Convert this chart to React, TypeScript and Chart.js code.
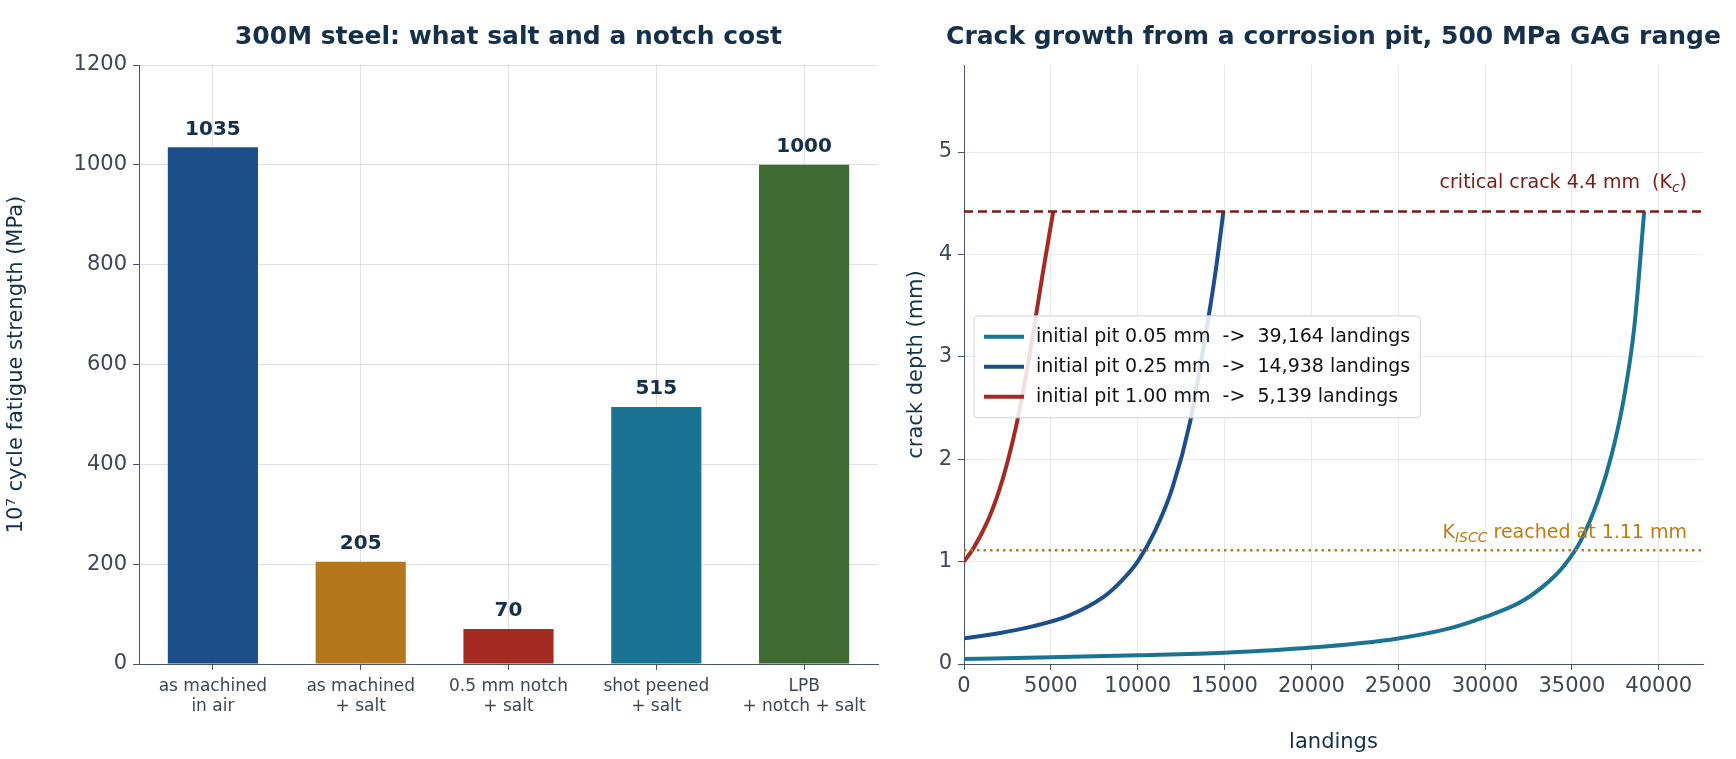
import React, { useEffect, useRef } from "react";
import { Chart, registerables } from "chart.js";
Chart.register(...registerables);

const barLabels = [["as machined", "in air"], ["as machined", "+ salt"], ["0.5 mm notch", "+ salt"], ["shot peened", "+ salt"], ["LPB", "+ notch + salt"]];
const barValues = [1035, 205, 70, 515, 1000];
const barColors = ["#1c4f8a", "#b5771b", "#a52a21", "#1b7394", "#3f6b33"];

const pit005 = [[0, 0.05], [5000, 0.065], [10000, 0.085], [15000, 0.11], [20000, 0.16], [25000, 0.25], [28000, 0.35], [30000, 0.46], [32000, 0.6], [33500, 0.78], [34500, 0.95], [35500, 1.2], [36500, 1.6], [37300, 2.05], [38000, 2.6], [38600, 3.3], [39164, 4.42]];
const pit025 = [[0, 0.25], [2000, 0.3], [4000, 0.37], [6000, 0.47], [8000, 0.65], [9000, 0.8], [10000, 1.0], [11000, 1.3], [12000, 1.72], [13000, 2.35], [13800, 3.1], [14500, 3.85], [14938, 4.42]];
const pit100 = [[0, 1.0], [500, 1.12], [1000, 1.27], [1500, 1.45], [2000, 1.68], [2500, 1.97], [3000, 2.32], [3500, 2.75], [4000, 3.25], [4500, 3.78], [5139, 4.42]];
const seriesLabels = ["initial pit 0.05 mm  ->  39,164 landings", "initial pit 0.25 mm  ->  14,938 landings", "initial pit 1.00 mm  ->  5,139 landings"];
const seriesColors = ["#1b7394", "#1c4f8a", "#a52a21"];
const xTickValues = [0, 5000, 10000, 15000, 20000, 25000, 30000, 35000, 40000];
const yTickValues = [0, 1, 2, 3, 4, 5];
const criticalCrack = 4.42;
const kisccDepth = 1.11;

const FONT = "'DejaVu Sans', sans-serif";
const NAVY = "#14304a";
const TICK = "#3d4756";
const GRID = "rgba(200,205,215,0.6)";

const titlePlugin = (text: string) => ({
  id: "ttl",
  afterDraw(c: any) {
    const ctx = c.ctx, a = c.chartArea;
    ctx.save();
    ctx.font = `bold 25px ${FONT}`;
    ctx.fillStyle = NAVY;
    ctx.textAlign = "center";
    ctx.textBaseline = "middle";
    ctx.fillText(text, (a.left + a.right) / 2, 37);
    ctx.restore();
  },
});

function BarChart() {
  const ref = useRef<HTMLCanvasElement>(null);
  useEffect(() => {
    const labelsPlugin = {
      id: "vals",
      afterDatasetsDraw(c: any) {
        const ctx = c.ctx;
        const meta = c.getDatasetMeta(0);
        ctx.save();
        ctx.font = `bold 20px ${FONT}`;
        ctx.fillStyle = NAVY;
        ctx.textAlign = "center";
        ctx.textBaseline = "bottom";
        meta.data.forEach((el: any, i: number) => ctx.fillText(String(barValues[i]), el.x, el.y - 8));
        ctx.restore();
      },
    };
    const ch = new Chart(ref.current!, {
      type: "bar",
      data: { labels: barLabels as any, datasets: [{ data: barValues, backgroundColor: barColors, barPercentage: 0.61, categoryPercentage: 1 }] },
      options: {
        animation: false, responsive: false,
        layout: { padding: { left: 0, right: 22, top: 65, bottom: 0 } },
        plugins: { legend: { display: false }, tooltip: { enabled: false } },
        scales: {
          x: {
            z: 1,
            grid: { color: GRID, offset: false, drawTicks: true, tickLength: 6, tickColor: "#4a5568" },
            border: { color: "#4a5568" },
            ticks: { color: TICK, font: { family: FONT, size: 17 }, padding: 6 },
            afterFit: (s: any) => { s.height = 95; },
          },
          y: {
            z: 1, min: 0, max: 1200,
            grid: { color: GRID, tickLength: 6, tickColor: "#4a5568" },
            border: { color: "#4a5568" },
            ticks: { stepSize: 200, color: TICK, font: { family: FONT, size: 21 }, padding: 6, callback: (v: any) => String(v) },
            title: { display: true, text: "10⁷ cycle fatigue strength (MPa)", color: NAVY, font: { family: FONT, size: 21 }, padding: { bottom: 8 } },
            afterFit: (s: any) => { s.width = 139; },
          },
        },
      },
      plugins: [labelsPlugin, titlePlugin("300M steel: what salt and a notch cost")],
    });
    return () => ch.destroy();
  }, []);
  return <canvas ref={ref} width={900} height={759} style={{ position: "absolute", left: 0, top: 0 }} />;
}

function LineChart() {
  const ref = useRef<HTMLCanvasElement>(null);
  useEffect(() => {
    const extras = {
      id: "extras",
      afterDatasetsDraw(c: any) {
        const ctx = c.ctx, a = c.chartArea, y = c.scales.y;
        ctx.save();
        ctx.lineWidth = 2.5;
        ctx.strokeStyle = "#7a1a14";
        ctx.setLineDash([9, 5]);
        let yy = y.getPixelForValue(criticalCrack);
        ctx.beginPath(); ctx.moveTo(a.left, yy); ctx.lineTo(a.right, yy); ctx.stroke();
        ctx.strokeStyle = "#c07a10";
        ctx.setLineDash([2.5, 4]);
        yy = y.getPixelForValue(kisccDepth);
        ctx.beginPath(); ctx.moveTo(a.left, yy); ctx.lineTo(a.right, yy); ctx.stroke();
        ctx.setLineDash([]);
        const drawParts = (parts: [string, string, string][], right: number, base: number) => {
          let w = 0;
          parts.forEach(p => { ctx.font = p[1]; w += ctx.measureText(p[0]).width; });
          let cx = right - w;
          ctx.textAlign = "left"; ctx.textBaseline = "alphabetic";
          parts.forEach(p => { ctx.font = p[1]; ctx.fillText(p[0], cx, base + (p[2] === "sub" ? 4 : 0)); cx += ctx.measureText(p[0]).width; });
        };
        const n = `19px ${FONT}`, sub = `italic 14px ${FONT}`;
        ctx.fillStyle = "#7a1a14";
        drawParts([["critical crack 4.4 mm  (K", n, ""], ["c", sub, "sub"], [")", n, ""]], a.right - 16, y.getPixelForValue(criticalCrack) - 23);
        ctx.fillStyle = "#c07a10";
        drawParts([["K", n, ""], ["ISCC", sub, "sub"], [" reached at 1.11 mm", n, ""]], a.right - 16, y.getPixelForValue(kisccDepth) - 12);
        const lx = a.left + 10, ly = y.getPixelForValue(3.4), lh = 30;
        ctx.font = `19px ${FONT}`;
        const tw = Math.max(...seriesLabels.map(s => ctx.measureText(s).width));
        const bw = 72 + tw, bh = lh * 3 + 12;
        ctx.fillStyle = "rgba(255,255,255,0.85)";
        ctx.strokeStyle = "#d0d4da"; ctx.lineWidth = 1;
        ctx.beginPath(); ctx.roundRect(lx, ly, bw, bh, 4); ctx.fill(); ctx.stroke();
        seriesLabels.forEach((s, i) => {
          const cy = ly + 6 + lh * i + lh / 2;
          ctx.strokeStyle = seriesColors[i]; ctx.lineWidth = 4;
          ctx.beginPath(); ctx.moveTo(lx + 10, cy); ctx.lineTo(lx + 50, cy); ctx.stroke();
          ctx.fillStyle = "#111"; ctx.textBaseline = "middle"; ctx.textAlign = "left";
          ctx.fillText(s, lx + 62, cy);
        });
        ctx.restore();
      },
    };
    const series = [pit005, pit025, pit100];
    const ch = new Chart(ref.current!, {
      type: "line",
      data: {
        datasets: series.map((d, i) => ({
          label: seriesLabels[i], data: d.map(p => ({ x: p[0], y: p[1] })), borderColor: seriesColors[i],
          borderWidth: 4, pointRadius: 0, tension: 0.4, cubicInterpolationMode: "monotone" as const, fill: false,
        })),
      },
      options: {
        animation: false, responsive: false,
        layout: { padding: { left: 0, right: 33, top: 65, bottom: 0 } },
        plugins: { legend: { display: false }, tooltip: { enabled: false } },
        scales: {
          x: {
            type: "linear", min: 0, max: 42550,
            grid: { color: "#e6e9ee", tickLength: 6, tickColor: "#4a5568" },
            border: { color: "#4a5568" },
            ticks: { color: TICK, font: { family: FONT, size: 21 }, padding: 4, autoSkip: false, maxRotation: 0, callback: (v: any) => String(v) },
            afterBuildTicks: (s: any) => { s.ticks = xTickValues.map(v => ({ value: v })); },
            title: { display: true, text: "landings", color: NAVY, font: { family: FONT, size: 21 }, padding: { top: 4 } },
            afterFit: (s: any) => { s.height = 95; },
          },
          y: {
            type: "linear", min: 0, max: 5.85,
            grid: { color: "#e6e9ee", tickLength: 6, tickColor: "#4a5568" },
            border: { color: "#4a5568" },
            ticks: { color: TICK, font: { family: FONT, size: 21 }, padding: 6, autoSkip: false },
            afterBuildTicks: (s: any) => { s.ticks = yTickValues.map(v => ({ value: v })); },
            title: { display: true, text: "crack depth (mm)", color: NAVY, font: { family: FONT, size: 21 } },
            afterFit: (s: any) => { s.width = 64; },
          },
        },
      },
      plugins: [extras, titlePlugin("Crack growth from a corrosion pit, 500 MPa GAG range")],
    });
    return () => ch.destroy();
  }, []);
  return <canvas ref={ref} width={836} height={759} style={{ position: "absolute", left: 900, top: 0 }} />;
}

export default function App() {
  return (
    <div style={{ position: "absolute", left: 0, top: 0, width: 1736, height: 759, background: "#fff", overflow: "hidden" }}>
      <BarChart />
      <LineChart />
    </div>
  );
}
